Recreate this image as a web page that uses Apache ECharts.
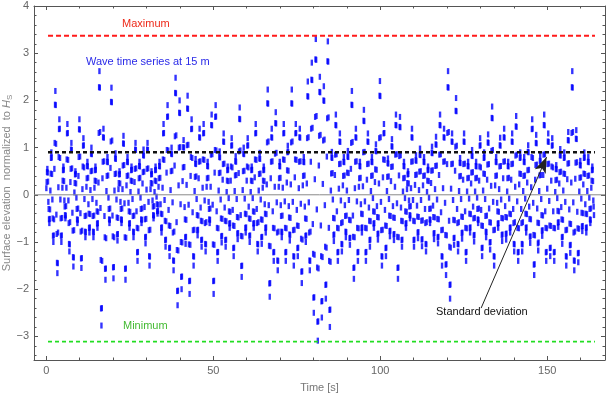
<!DOCTYPE html>
<html>
<head>
<meta charset="utf-8">
<script src="https://cdn.jsdelivr.net/npm/echarts@6/dist/echarts.min.js"></script>
<style>html,body{margin:0;padding:0;background:#fff}#c{width:607px;height:396px}</style>
</head>
<body>
<div id="c"></div>
<script>
// sampling step of the record [s]
const sampleStep = 0.1;
// surface elevation normalized to Hs, in hundredths, one row per wave (1.2 s)
const elevationHundredths = [
14,27,48,55,47,28,-15,-30,-52,-60,-51,-31,
9,45,78,90,79,44,-10,-50,-87,-100,-86,-52,
55,110,191,220,190,108,-42,-83,-144,-166,-145,-80,
16,80,139,160,140,78,-10,-50,-87,-100,-86,-49,
15,30,52,60,53,29,-12,-25,-43,-50,-44,-24,
15,75,130,150,131,74,-12,-60,-104,-120,-105,-58,
27,55,96,110,95,56,-38,-76,-132,-152,-133,-75,
5,25,43,50,44,24,-6,-30,-52,-60,-53,-29,
40,80,139,160,138,81,-39,-78,-135,-155,-134,-76,
12,60,104,120,105,58,-9,-45,-78,-90,-79,-44,
17,35,61,70,60,36,-20,-40,-70,-80,-69,-41,
10,50,87,100,86,51,-9,-45,-78,-90,-79,-44,
15,30,52,60,53,29,-17,-35,-61,-70,-60,-36,
26,131,228,262,227,133,-28,-138,-241,-277,-240,-140,
35,70,122,140,121,71,-45,-90,-157,-180,-156,-92,
8,40,70,80,69,41,-6,-30,-52,-60,-53,-29,
57,113,197,227,196,115,-44,-88,-154,-177,-153,-90,
9,44,77,88,76,45,-10,-48,-84,-97,-83,-49,
12,25,43,50,44,24,-15,-30,-52,-60,-53,-29,
12,62,109,125,108,63,-18,-90,-157,-180,-156,-91,
20,40,70,80,69,41,-17,-35,-61,-70,-60,-36,
6,30,52,60,53,29,-9,-45,-78,-90,-79,-44,
27,55,96,110,95,56,-35,-70,-122,-140,-121,-71,
7,35,61,70,60,36,-6,-30,-52,-60,-53,-29,
24,48,84,96,83,49,-26,-52,-90,-103,-89,-51,
11,55,96,110,95,56,-15,-75,-130,-150,-131,-74,
12,25,43,50,44,24,-12,-25,-43,-50,-44,-24,
6,30,52,60,53,29,-4,-20,-35,-40,-34,-21,
17,35,61,70,60,36,-20,-40,-70,-80,-69,-41,
15,75,130,150,131,74,-11,-55,-96,-110,-95,-56,
47,95,165,190,166,94,-32,-65,-113,-130,-112,-66,
10,50,87,100,86,51,-16,-80,-139,-160,-140,-78,
62,124,216,248,215,126,-58,-117,-204,-234,-203,-118,
20,100,174,200,173,101,-20,-100,-174,-200,-173,-101,
29,58,101,116,100,59,-26,-52,-90,-104,-89,-53,
21,105,183,210,182,106,-21,-105,-183,-210,-182,-106,
40,80,139,160,140,78,-37,-75,-130,-150,-131,-74,
8,38,66,76,65,39,-9,-43,-75,-86,-74,-44,
35,70,122,140,121,71,-27,-55,-96,-110,-95,-56,
15,75,130,150,131,74,-12,-60,-104,-120,-105,-58,
17,35,61,70,60,36,-15,-30,-52,-60,-53,-29,
17,85,148,170,147,86,-21,-105,-183,-210,-182,-106,
47,95,165,190,166,94,-35,-70,-122,-140,-121,-71,
9,46,80,92,79,47,-10,-50,-88,-101,-87,-51,
32,65,113,130,112,66,-27,-55,-96,-110,-95,-56,
6,30,52,60,53,29,-7,-35,-61,-70,-60,-36,
30,60,104,120,105,58,-32,-65,-113,-130,-112,-66,
8,41,71,82,70,42,-9,-47,-82,-94,-81,-48,
46,92,161,185,160,94,-43,-87,-151,-174,-150,-88,
10,50,87,100,86,51,-8,-40,-70,-80,-69,-41,
30,60,104,120,105,58,-25,-50,-87,-100,-86,-51,
6,30,52,60,53,29,-7,-35,-61,-70,-60,-36,
37,75,130,150,131,74,-30,-60,-104,-120,-105,-58,
9,44,77,89,76,45,-10,-52,-90,-104,-89,-53,
15,30,52,60,53,29,-20,-40,-70,-80,-69,-41,
22,111,194,223,193,113,-22,-108,-188,-216,-187,-109,
35,70,122,140,121,71,-35,-70,-122,-140,-121,-71,
17,87,152,175,151,89,-16,-80,-139,-160,-140,-78,
17,35,61,70,60,36,-22,-45,-78,-90,-79,-44,
15,75,130,150,131,74,-14,-70,-122,-140,-121,-71,
26,52,90,104,91,51,-24,-48,-84,-97,-85,-49,
22,111,194,223,193,113,-15,-75,-130,-150,-131,-74,
37,75,130,150,131,74,-32,-65,-113,-130,-112,-66,
14,70,122,140,121,71,-19,-93,-163,-187,-162,-95,
20,40,70,80,69,41,-25,-50,-87,-100,-86,-51,
24,120,209,240,208,122,-16,-80,-139,-160,-140,-78,
70,140,244,280,243,142,-62,-125,-218,-250,-217,-127,
33,165,287,330,286,167,-31,-154,-269,-309,-268,-156,
62,125,218,250,217,127,-65,-130,-226,-260,-225,-132,
23,115,200,230,199,117,-22,-110,-191,-220,-190,-112,
81,162,283,325,282,164,-70,-140,-244,-280,-243,-142,
9,45,79,91,78,46,-10,-49,-85,-98,-84,-50,
42,85,148,170,147,86,-35,-70,-122,-140,-121,-71,
13,65,113,130,112,66,-12,-60,-104,-120,-105,-58,
20,40,70,80,69,41,-22,-45,-78,-90,-79,-44,
9,47,81,93,80,46,-11,-53,-92,-106,-91,-54,
55,110,191,220,190,112,-44,-89,-155,-178,-154,-90,
14,70,122,140,121,71,-14,-70,-122,-140,-121,-71,
17,35,61,70,60,36,-20,-40,-70,-80,-69,-41,
18,90,157,180,156,91,-14,-70,-122,-140,-121,-71,
32,65,113,130,112,66,-27,-55,-96,-110,-95,-56,
8,40,70,80,69,41,-7,-35,-61,-70,-60,-36,
27,54,93,107,92,53,-24,-47,-83,-95,-82,-48,
24,120,210,241,209,122,-15,-75,-130,-150,-131,-74,
37,75,130,150,131,74,-32,-65,-113,-130,-112,-66,
8,38,67,77,66,39,-9,-44,-77,-88,-76,-45,
29,59,103,118,102,60,-24,-48,-84,-96,-83,-49,
17,85,148,170,147,86,-18,-89,-155,-178,-154,-90,
41,82,144,165,143,84,-27,-55,-96,-110,-95,-56,
7,35,61,70,60,36,-7,-35,-61,-70,-60,-36,
12,25,43,50,44,24,-12,-25,-43,-50,-44,-24,
14,70,122,140,121,71,-11,-55,-96,-110,-95,-56,
21,42,73,84,72,43,-23,-46,-80,-92,-79,-47,
10,49,85,98,84,50,-11,-55,-95,-109,-94,-54,
20,40,70,80,69,41,-30,-60,-104,-120,-105,-58,
6,30,52,60,53,29,-6,-30,-52,-60,-53,-29,
25,51,89,102,88,52,-23,-47,-82,-94,-81,-48,
12,61,107,123,106,62,-10,-51,-90,-103,-89,-52,
42,85,148,170,147,86,-37,-75,-130,-150,-131,-74,
14,70,122,140,121,71,-17,-85,-148,-170,-147,-86,
65,131,228,262,227,133,-55,-110,-191,-220,-190,-112,
13,65,113,130,112,66,-11,-53,-92,-106,-91,-54,
51,102,178,205,177,104,-30,-60,-104,-120,-105,-58,
8,39,68,78,67,40,-9,-46,-81,-93,-80,-47,
32,65,113,130,112,66,-35,-70,-122,-140,-121,-71,
7,35,61,70,60,36,-8,-40,-70,-80,-69,-41,
24,47,83,95,82,48,-25,-50,-86,-99,-85,-49,
7,35,61,70,60,36,-6,-30,-52,-60,-53,-29,
30,60,104,120,105,58,-32,-65,-113,-130,-112,-66,
9,45,78,90,79,44,-9,-45,-78,-90,-79,-44,
32,64,111,128,110,65,-29,-58,-101,-116,-100,-59,
19,93,163,187,162,95,-15,-75,-130,-150,-131,-74,
20,40,70,80,69,41,-17,-35,-61,-70,-60,-36,
12,60,105,121,104,61,-10,-49,-85,-98,-84,-50,
35,70,122,140,121,71,-24,-47,-83,-95,-82,-48,
7,35,61,70,60,36,-8,-40,-70,-80,-69,-41,
32,65,113,130,112,66,-30,-60,-104,-120,-105,-58,
17,83,145,167,144,85,-14,-70,-122,-140,-121,-71,
22,45,78,90,79,44,-30,-60,-104,-120,-105,-58,
8,40,70,80,69,41,-8,-40,-70,-80,-69,-41,
26,52,91,105,90,53,-25,-51,-89,-102,-88,-52,
16,80,139,160,140,78,-17,-85,-148,-170,-147,-86,
32,63,110,127,109,64,-29,-59,-103,-118,-101,-60,
8,41,72,83,71,42,-9,-43,-76,-87,-75,-44,
42,85,148,170,147,86,-35,-70,-122,-140,-121,-71,
13,65,113,130,112,66,-13,-65,-113,-130,-112,-66,
30,60,104,120,105,58,-35,-70,-122,-140,-121,-71,
6,31,55,63,54,32,-7,-34,-59,-68,-58,-35,
24,48,84,97,83,49,-26,-52,-90,-104,-89,-53,
9,45,78,90,79,44,-15,-75,-130,-150,-131,-74,
33,66,116,133,115,67,-31,-61,-107,-123,-106,-62,
26,131,228,262,227,133,-16,-80,-139,-160,-140,-78,
34,68,119,137,118,69,-36,-71,-124,-143,-123,-72,
7,36,63,72,62,37,-8,-38,-67,-77,-66,-39,
22,45,78,90,79,44,-20,-40,-70,-80,-69,-41,
8,40,70,80,69,41,-6,-30,-52,-60,-53,-29,
15,30,52,60,53,29,-12,-25,-43
];
// reference levels
const maximumLevel = 3.37;
const stdDevLevel = 0.90;
const minimumLevel = -3.11;
const levelSpan = [0.5, 164.3];
// arrow of the "Standard deviation" note: [time, elevation]
const arrowFrom = [130.2, -2.40];
const arrowTo = [149.8, 0.80];
// ticks
const xMajorTicks = [0, 50, 100, 150];
const xMinorTicks = [10, 20, 30, 40, 60, 70, 80, 90, 110, 120, 130, 140, 160];
const yMajorTicks = [-3, -2, -1, 0, 1, 2, 3, 4];
const yMinorTicks = [-3.4,-3.2,-2.8,-2.6,-2.4,-2.2,-1.8,-1.6,-1.4,-1.2,-0.8,-0.6,-0.4,-0.2,
  0.2,0.4,0.6,0.8,1.2,1.4,1.6,1.8,2.2,2.4,2.6,2.8,3.2,3.4,3.6,3.8];

const X_MIN = -3.7, X_MAX = 167.3, Y_MIN = -3.5, Y_MAX = 4;
const frameColor = '#555';
const labelColor = '#666';
const font = 'Arial, "Liberation Sans", sans-serif';

const waveData = elevationHundredths.map((v, i) => [+(i * sampleStep).toFixed(2), v / 100]);
const lvl = (y) => [[levelSpan[0], y], [levelSpan[1], y]];

function xAxisDef(pos, ticks, len, showLine, labels) {
  return {
    type: 'value', position: pos, min: X_MIN, max: X_MAX,
    axisLine: {show: showLine, onZero: false, lineStyle: {color: frameColor, width: 1}},
    axisTick: {show: true, inside: true, length: len, customValues: ticks, lineStyle: {color: frameColor}},
    axisLabel: labels ? {show: true, customValues: ticks, color: labelColor, fontSize: 11, fontFamily: font, margin: 5} : {show: false},
    splitLine: {show: false}
  };
}
function yAxisDef(pos, ticks, len, showLine, labels) {
  return {
    type: 'value', position: pos, min: Y_MIN, max: Y_MAX,
    axisLine: {show: showLine, onZero: false, lineStyle: {color: frameColor, width: 1}},
    axisTick: {show: true, inside: true, length: len, customValues: ticks, lineStyle: {color: frameColor}},
    axisLabel: labels ? {show: true, customValues: ticks, color: labelColor, fontSize: 11, fontFamily: font, margin: 5,
      formatter: v => String(v).replace('-', '\u2212')} : {show: false},
    splitLine: {show: false}
  };
}

const xAxes = [
  xAxisDef('bottom', xMajorTicks, 4, true, true),
  xAxisDef('bottom', xMinorTicks, 2.5, false, false),
  xAxisDef('top', xMajorTicks, 4, true, false),
  xAxisDef('top', xMinorTicks, 2.5, false, false)
];
Object.assign(xAxes[0], {name: 'Time [s]', nameLocation: 'middle', nameGap: 22, nameMoveOverlap: false,
  nameTextStyle: {color: '#777', fontSize: 11, fontFamily: font}});

const yAxes = [
  yAxisDef('left', yMajorTicks, 4, true, true),
  yAxisDef('left', yMinorTicks, 2.5, false, false),
  yAxisDef('right', yMajorTicks, 4, true, false),
  yAxisDef('right', yMinorTicks, 2.5, false, false)
];
Object.assign(yAxes[0], {name: 'Surface elevation  normalized  to {i|H}{s|S}', nameLocation: 'middle',
  nameRotate: 90, nameGap: 20, nameMoveOverlap: false,
  nameTextStyle: {color: '#888', fontSize: 11, fontFamily: font,
    rich: {i: {fontStyle: 'italic', color: '#888', fontSize: 11, fontFamily: font},
           s: {color: '#888', fontSize: 8, fontFamily: font, verticalAlign: 'bottom', padding: [6, 0, 0, 0]}}}});

const chart = echarts.init(document.getElementById('c'), null, {renderer: 'canvas'});
chart.setOption({
  animation: false,
  backgroundColor: '#fff',
  grid: {left: 34, right: 2, top: 6, bottom: 36, containLabel: false, outerBoundsMode: 'none'},
  xAxis: xAxes,
  yAxis: yAxes,
  series: [
    {type: 'scatter', data: waveData, symbol: 'rect', symbolSize: [2.4, 6], large: false,
     progressive: 0, itemStyle: {color: '#0000ff'}, z: 2},
    {type: 'line', data: [[X_MIN, 0], [X_MAX, 0]], symbol: 'none', silent: true,
     lineStyle: {color: '#8a8a8a', width: 1}, z: 3},
    {type: 'line', data: lvl(maximumLevel), symbol: 'none',
     lineStyle: {color: '#ff1a1a', width: 2, type: [5, 3]}, z: 3},
    {type: 'line', data: lvl(stdDevLevel), symbol: 'none',
     lineStyle: {color: '#111', width: 2.5, type: [4, 3]}, z: 3},
    {type: 'line', data: lvl(minimumLevel), symbol: 'none',
     lineStyle: {color: '#22dd22', width: 1.6, type: [4, 3]}, z: 3,
     markLine: {silent: true, symbol: ['none', 'arrow'], symbolSize: [9, 16],
       lineStyle: {color: '#222', width: 1, type: 'solid'}, label: {show: false},
       data: [[{coord: arrowFrom}, {coord: arrowTo}]]}}
  ],
  graphic: [
    {type: 'text', left: 122, top: 18, style: {text: 'Maximum', fill: '#ee2a1a', font: '11px ' + font}},
    {type: 'text', left: 86, top: 56, style: {text: 'Wave time series at 15 m', fill: '#2a2ae8', font: '11px ' + font}},
    {type: 'text', left: 123, top: 320, style: {text: 'Minimum', fill: '#44bb33', font: '11px ' + font}},
    {type: 'text', left: 436, top: 306, style: {text: 'Standard deviation', fill: '#111', font: '11px ' + font}}
  ]
});
</script>
</body>
</html>
